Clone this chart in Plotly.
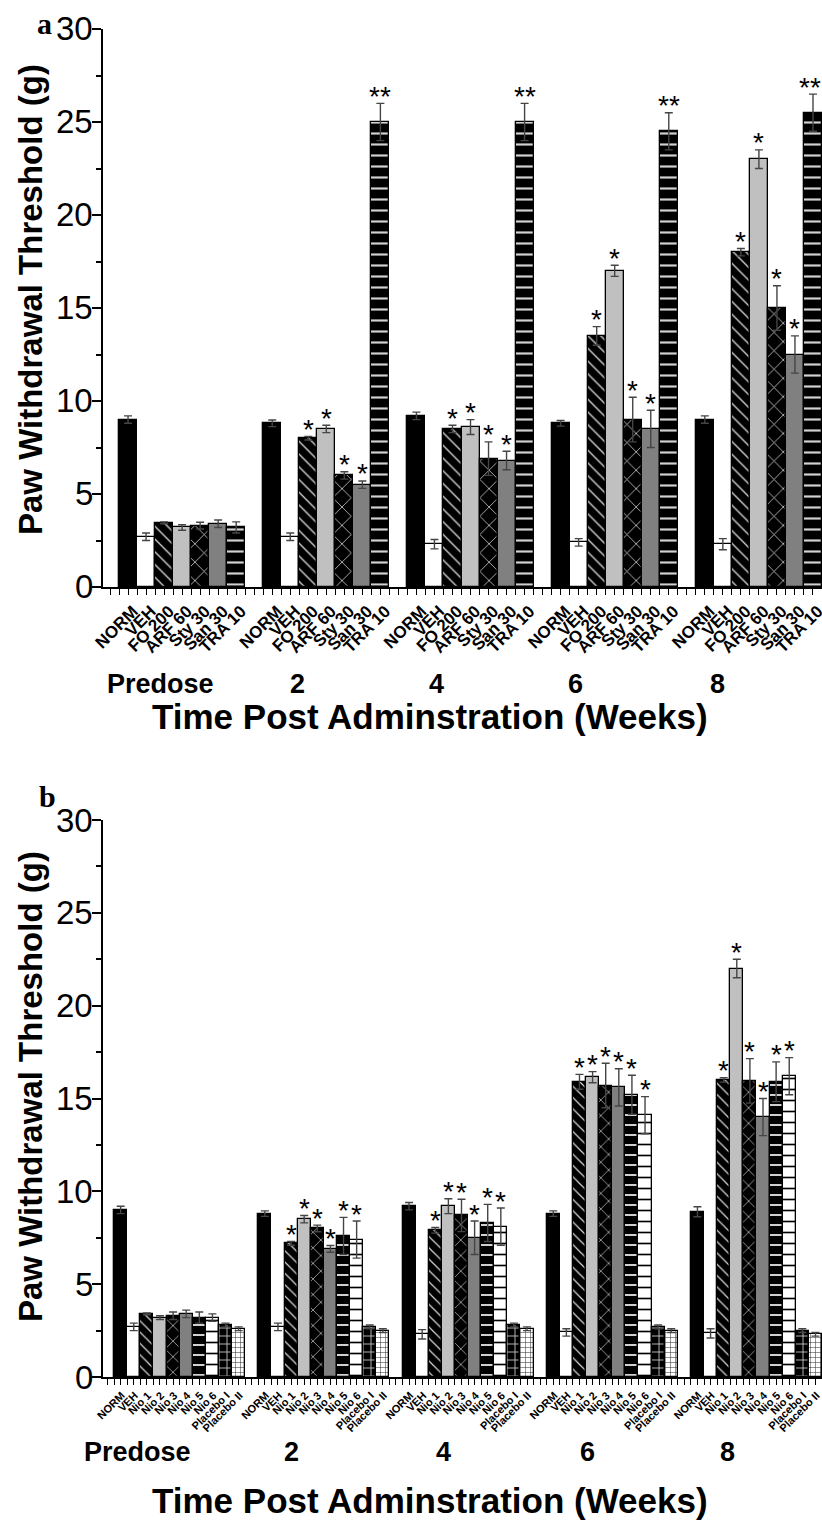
import plotly.graph_objects as go

# ---------------- data ----------------
groups = ["Predose", "2", "4", "6", "8"]
y_ticks = [0, 5, 10, 15, 20, 25, 30]

cats_a = ["NORM", "VEH", "FO 200", "ARF 60", "Sty 30", "San 30", "TRA 10"]
vals_a = {
    "NORM":   [9.0, 8.8, 9.2, 8.8, 9.0],
    "VEH":    [2.7, 2.7, 2.3, 2.4, 2.3],
    "FO 200": [3.45, 8.0, 8.5, 13.5, 18.0],
    "ARF 60": [3.2, 8.5, 8.6, 17.0, 23.0],
    "Sty 30": [3.3, 6.0, 6.9, 9.0, 15.0],
    "San 30": [3.4, 5.5, 6.8, 8.5, 12.5],
    "TRA 10": [3.2, 25.0, 25.0, 24.5, 25.5],
}
errs_a = {
    "NORM":   [0.2, 0.18, 0.2, 0.15, 0.2],
    "VEH":    [0.2, 0.2, 0.25, 0.2, 0.3],
    "FO 200": [0.05, 0.1, 0.2, 0.5, 0.2],
    "ARF 60": [0.15, 0.2, 0.4, 0.3, 0.5],
    "Sty 30": [0.18, 0.2, 0.9, 1.2, 1.2],
    "San 30": [0.2, 0.2, 0.5, 1.0, 1.0],
    "TRA 10": [0.3, 1.0, 1.0, 1.0, 1.0],
}
stars_a = {
    "FO 200": ["", "*", "*", "*", "*"],
    "ARF 60": ["", "*", "*", "*", "*"],
    "Sty 30": ["", "*", "*", "*", "*"],
    "San 30": ["", "*", "*", "*", "*"],
    "TRA 10": ["", "**", "**", "**", "**"],
}

cats_b = ["NORM", "VEH", "Nio 1", "Nio 2", "Nio 3", "Nio 4", "Nio 5", "Nio 6",
          "Placebo I", "Placebo II"]
vals_b = {
    "NORM":       [9.0, 8.8, 9.2, 8.8, 8.9],
    "VEH":        [2.7, 2.7, 2.3, 2.4, 2.35],
    "Nio 1":      [3.4, 7.2, 7.9, 15.9, 16.0],
    "Nio 2":      [3.2, 8.5, 9.2, 16.15, 22.0],
    "Nio 3":      [3.3, 8.0, 8.7, 15.7, 15.95],
    "Nio 4":      [3.4, 6.9, 7.5, 15.6, 14.0],
    "Nio 5":      [3.2, 7.6, 8.3, 15.2, 15.9],
    "Nio 6":      [3.2, 7.4, 8.1, 14.1, 16.2],
    "Placebo I":  [2.8, 2.7, 2.8, 2.7, 2.5],
    "Placebo II": [2.6, 2.5, 2.6, 2.5, 2.3],
}
errs_b = {
    "NORM":       [0.2, 0.15, 0.2, 0.15, 0.27],
    "VEH":        [0.2, 0.2, 0.25, 0.2, 0.25],
    "Nio 1":      [0.05, 0.1, 0.15, 0.4, 0.12],
    "Nio 2":      [0.1, 0.2, 0.4, 0.3, 0.5],
    "Nio 3":      [0.2, 0.18, 0.87, 1.2, 1.2],
    "Nio 4":      [0.2, 0.18, 0.9, 1.0, 1.0],
    "Nio 5":      [0.3, 1.0, 1.0, 1.05, 1.07],
    "Nio 6":      [0.2, 1.0, 1.0, 1.0, 1.0],
    "Placebo I":  [0.1, 0.1, 0.1, 0.1, 0.1],
    "Placebo II": [0.1, 0.1, 0.1, 0.1, 0.1],
}
stars_b = {c: ["", "*", "*", "*", "*"] for c in
           ["Nio 1", "Nio 2", "Nio 3", "Nio 4", "Nio 5", "Nio 6"]}

# ---------------- styles ----------------
LG = "#c0c0c0"
MG = "#808080"
style_a = {
    "NORM":   dict(color="black"),
    "VEH":    dict(color="white"),
    "FO 200": dict(color="black", pattern=dict(shape="\\", fgcolor="#d8d8d8", bgcolor="black", size=9, solidity=0.15, fillmode="replace")),
    "ARF 60": dict(color=LG),
    "Sty 30": dict(color="black", pattern=dict(shape="x", fgcolor="#d0d0d0", bgcolor="black", size=13, solidity=0.12, fillmode="replace")),
    "San 30": dict(color=MG),
    "TRA 10": dict(color="black", pattern=dict(shape="-", fgcolor="#d0d0d0", bgcolor="black", size=11, solidity=0.2, fillmode="replace")),
}
style_b = {
    "NORM":       dict(color="black"),
    "VEH":        dict(color="white"),
    "Nio 1":      dict(color="black", pattern=dict(shape="\\", fgcolor="#d8d8d8", bgcolor="black", size=8, solidity=0.15, fillmode="replace")),
    "Nio 2":      dict(color=LG),
    "Nio 3":      dict(color="black", pattern=dict(shape="x", fgcolor="#d0d0d0", bgcolor="black", size=11, solidity=0.12, fillmode="replace")),
    "Nio 4":      dict(color=MG),
    "Nio 5":      dict(color="black", pattern=dict(shape="-", fgcolor="#d0d0d0", bgcolor="black", size=10, solidity=0.2, fillmode="replace")),
    "Nio 6":      dict(color="white", pattern=dict(shape="-", fgcolor="black", bgcolor="white", size=11, solidity=0.15, fillmode="replace")),
    "Placebo I":  dict(color="black", pattern=dict(shape="+", fgcolor="#d0d0d0", bgcolor="black", size=8, solidity=0.2, fillmode="replace")),
    "Placebo II": dict(color="white", pattern=dict(shape="+", fgcolor="#333333", bgcolor="white", size=5, solidity=0.2, fillmode="replace")),
}

FONT = "Arial, Liberation Sans, sans-serif"
W, H = 822, 1521

def py(pix):
    return 1 - pix / H

fig = go.Figure()

def add_panel(cats, vals, errs, stars, styles, xa, ya):
    n = len(cats)
    step = n + 1
    annotations = []
    last_x = (len(groups) - 1) * step + n - 1
    for j, c in enumerate(cats):
        xs = [g * step + j for g in range(len(groups))]
        st = styles[c]
        marker = dict(color=st["color"], line=dict(color="black", width=1.3))
        if "pattern" in st:
            marker["pattern"] = st["pattern"]
        fig.add_trace(go.Bar(
            x=xs, y=vals[c], width=1.0, marker=marker,
            error_y=dict(type="data", array=errs[c], color="#454545", thickness=1.4, width=4),
            xaxis=xa, yaxis=ya, showlegend=False,
        ))
        if c in stars:
            for g, s in enumerate(stars[c]):
                if s:
                    annotations.append(dict(
                        x=xs[g], y=vals[c][g] + errs[c][g], xref=xa, yref=ya,
                        text=s, showarrow=False, xanchor="center", yanchor="middle", yshift=7,
                        xshift=-3 if xs[g] == last_x else 0,
                        font=dict(family=FONT, size=28, color="black")))
    # y tick labels (placed by the y scale)
    for v in y_ticks:
        annotations.append(dict(x=95 / W, y=v, xref="paper", yref=ya, text=str(v),
                                showarrow=False, xanchor="right", yanchor="middle",
                                font=dict(family=FONT, size=33, color="black")))
    tickvals = [g * step + j for g in range(len(groups)) for j in range(n)]
    ticktext = [cats[j] for g in range(len(groups)) for j in range(n)]
    return tickvals, ticktext, annotations

tv_a, tt_a, ann_a = add_panel(cats_a, vals_a, errs_a, stars_a, style_a, "x", "y")
tv_b, tt_b, ann_b = add_panel(cats_b, vals_b, errs_b, stars_b, style_b, "x2", "y2")

AX = 103
x0 = AX / W
common_x = dict(showline=True, linecolor="black", linewidth=1.5, showgrid=False,
                zeroline=False, ticks="outside", ticklen=6, tickwidth=1.2,
                tickcolor="black", tickmode="array", tickangle=-45, automargin=False,
                ticklabeloverflow="allow",
                minor=dict(ticks="outside", ticklen=6, tickwidth=1.2, tickcolor="black",
                           tick0=0, dtick=0.5))
common_y = dict(showline=True, linecolor="black", linewidth=1.5, showgrid=False,
                zeroline=False, range=[0, 30], tickmode="array", automargin=False,
                tickvals=y_ticks, showticklabels=False, ticks="outside", ticklen=9,
                tickwidth=1.5, tickcolor="black",
                minor=dict(ticks="outside", ticklen=5, tickwidth=1.5, tickcolor="black",
                           tick0=0, dtick=2.5))

slot_a = (W - 101) / 40.0
slot_b = (W - 101) / 55.0
fig.update_layout(
    width=W, height=H, margin=dict(l=0, r=0, t=0, b=0, autoexpand=False),
    paper_bgcolor="white", plot_bgcolor="white", bargap=0, barmode="overlay",
    xaxis=dict(common_x, domain=[x0, 1], anchor="y",
               range=[-1.5 + (AX - 101) / slot_a, 38.5],
               tickvals=tv_a, ticktext=tt_a, ticklabelshift=5,
               tickfont=dict(family=FONT, size=17, color="black", weight="bold")),
    yaxis=dict(common_y, domain=[py(587), py(29)], anchor="x"),
    xaxis2=dict(common_x, domain=[x0, 1], anchor="y2",
                range=[-1.5 + (AX - 101) / slot_b, 53.5],
                tickvals=tv_b, ticktext=tt_b, ticklabelshift=1,
                tickfont=dict(family=FONT, size=11, color="black", weight="bold")),
    yaxis2=dict(common_y, domain=[py(1377), py(820)], anchor="x2"),
)

# group labels and titles
grp_x_a = [1.8, 9.4, 17.1, 24.8, 32.7]
grp_x_b = [1.3, 13.0, 24.6, 35.6, 46.3]
anns = ann_a + ann_b
for gx, lbl in zip(grp_x_a, groups):
    anns.append(dict(x=gx, y=py(684), xref="x", yref="paper", text=lbl, showarrow=False,
                     xanchor="center", yanchor="middle",
                     font=dict(family=FONT, size=27, color="black", weight="bold")))
for gx, lbl in zip(grp_x_b, groups):
    anns.append(dict(x=gx, y=py(1452), xref="x2", yref="paper", text=lbl, showarrow=False,
                     xanchor="center", yanchor="middle",
                     font=dict(family=FONT, size=27, color="black", weight="bold")))
for yy in [716, 1500]:
    anns.append(dict(x=430 / W, y=py(yy), xref="paper", yref="paper",
                     text="Time Post Adminstration (Weeks)", showarrow=False,
                     xanchor="center", yanchor="middle",
                     font=dict(family=FONT, size=35, color="black", weight="bold")))
for yy in [300, 1087]:
    anns.append(dict(x=30 / W, y=py(yy), xref="paper", yref="paper",
                     text="Paw Withdrawal Threshold (g)", showarrow=False, textangle=-90,
                     xanchor="center", yanchor="middle",
                     font=dict(family=FONT, size=33, color="black", weight="bold")))
anns.append(dict(x=44 / W, y=py(24), xref="paper", yref="paper", text="a", showarrow=False,
                 xanchor="center", yanchor="middle",
                 font=dict(family="Liberation Serif, Times New Roman, serif", size=30,
                           color="black", weight="bold")))
anns.append(dict(x=47 / W, y=py(796), xref="paper", yref="paper", text="b", showarrow=False,
                 xanchor="center", yanchor="middle",
                 font=dict(family="Liberation Serif, Times New Roman, serif", size=30,
                           color="black", weight="bold")))
fig.update_layout(annotations=anns)

fig.write_html("out.html")
